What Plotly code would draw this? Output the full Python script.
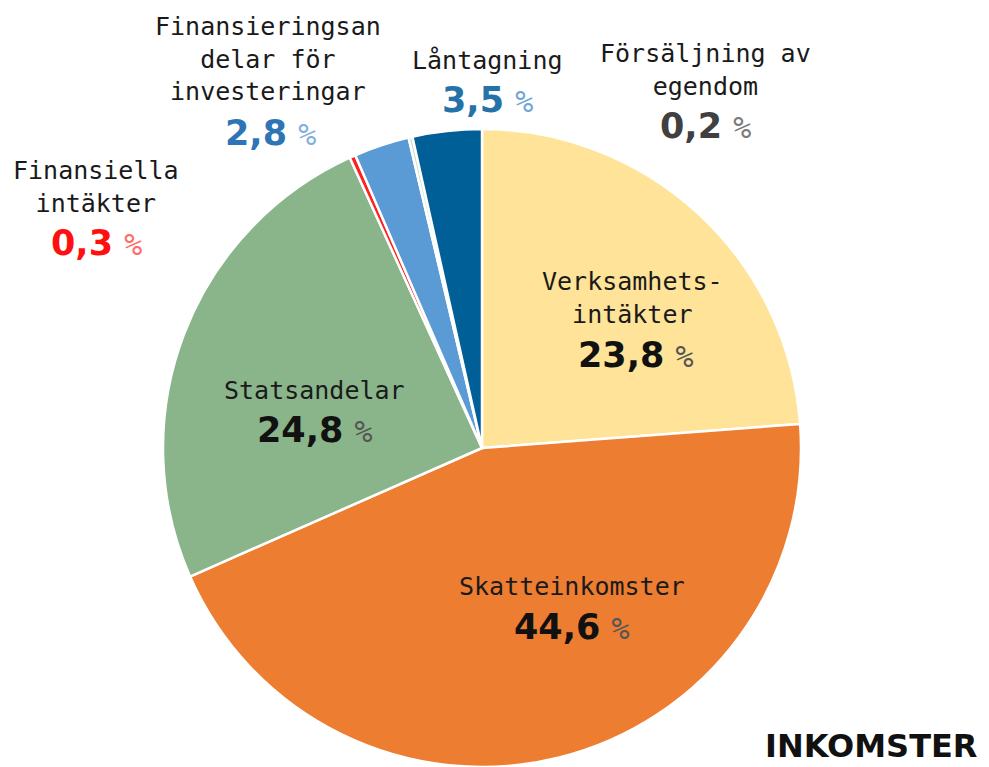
import plotly.graph_objects as go

# ---- data ----
categories = [
    "Verksamhetsintäkter",
    "Skatteinkomster",
    "Statsandelar",
    "Finansiella intäkter",
    "Finansieringsandelar för investeringar",
    "Försäljning av egendom",
    "Låntagning",
]
values = [23.8, 44.6, 24.8, 0.3, 2.8, 0.2, 3.5]
display_names = [
    "Verksamhets-<br>intäkter",
    "Skatteinkomster",
    "Statsandelar",
    "Finansiella<br>intäkter",
    "Finansieringsan<br>delar för<br>investeringar",
    "Försäljning av<br>egendom",
    "Låntagning",
]
title_text = "INKOMSTER"

# ---- styles ----
slice_colors = ["#FEE398", "#ED7D31", "#8AB58A", "#FF2020", "#5B9BD5", "#CFE3C4", "#005F96"]
num_colors = ["#111111", "#111111", "#111111", "#FF1010", "#2E75B6", "#404040", "#2572A8"]
pct_colors = ["#555555", "#555555", "#555555", "#FF6A6A", "#7FB0DE", "#7A7A7A", "#6FA6D6"]
# label positions (pixels from top-left): name center x, name first-line y, value y
name_pos = [(632, 283), (572, 588), (314, 392), (96, 172), (268, 28), (705, 55), (487, 62)]
value_pos = [(636, 355), (572, 627), (315, 430), (96, 243), (270, 133), (705, 126), (487, 100)]

W, H = 989, 767
cx, cy, r = 482, 448, 319

fig = go.Figure(go.Pie(
    labels=categories,
    values=values,
    sort=False,
    direction="clockwise",
    rotation=0,
    marker=dict(colors=slice_colors, line=dict(color="white", width=2.5)),
    textinfo="none",
    hoverinfo="label+percent",
    showlegend=False,
    domain=dict(x=[(cx - r) / W, (cx + r) / W], y=[(H - cy - r) / H, (H - cy + r) / H]),
))

name_font = dict(family="DejaVu Sans Mono", size=25, color="#1A1A1A")

for i, v in enumerate(values):
    nx, ny = name_pos[i]
    fig.add_annotation(
        x=nx / W, y=1 - (ny - 18) / H, xref="paper", yref="paper",
        xanchor="center", yanchor="top", showarrow=False,
        text=display_names[i], font=name_font, align="center",
    )
    vx, vy = value_pos[i]
    num = f"{v:.1f}".replace(".", ",")
    txt = (f"<b>{num}</b> "
           f"<span style='font-family:DejaVu Sans Mono;font-size:30px;color:{pct_colors[i]}'>%</span>")
    fig.add_annotation(
        x=vx / W, y=1 - vy / H, xref="paper", yref="paper",
        xanchor="center", yanchor="middle", showarrow=False,
        text=txt, font=dict(family="DejaVu Sans", size=35, color=num_colors[i]),
    )

fig.add_annotation(
    x=979 / W, y=1 - 746 / H, xref="paper", yref="paper",
    xanchor="right", yanchor="middle", showarrow=False,
    text=f"<b>{title_text}</b>",
    font=dict(family="DejaVu Sans", size=32, color="#111111"),
)

fig.update_layout(
    width=W, height=H,
    margin=dict(l=0, r=0, t=0, b=0),
    paper_bgcolor="white", plot_bgcolor="white",
)

fig.write_html("out.html", config={"displayModeBar": False},
               post_script="document.body.style.margin='0';")
